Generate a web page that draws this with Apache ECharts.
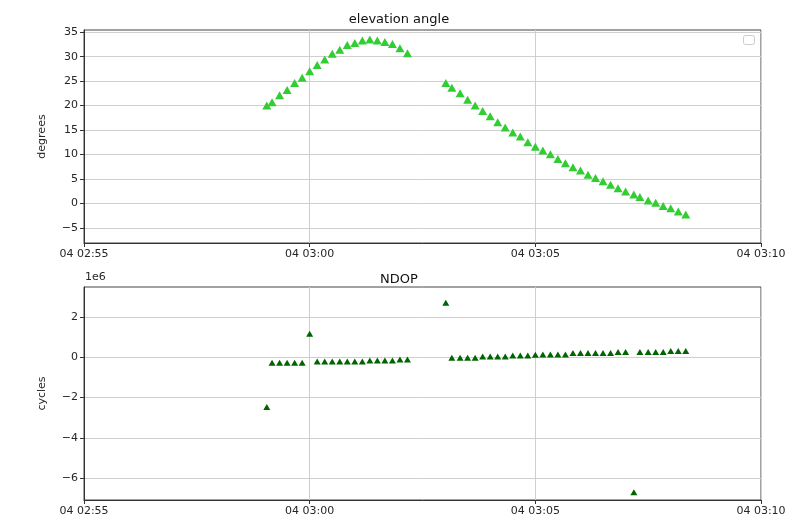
<!DOCTYPE html>
<html>
<head>
<meta charset="utf-8">
<script src="https://cdn.jsdelivr.net/npm/echarts@6/dist/echarts.min.js"></script>
<style>html,body{margin:0;padding:0;background:#fff;}#c{width:798px;height:521px;}</style>
</head>
<body>
<div id="c"></div>
<script>
// time stamps (day 04, HH:MM:SS)
const times = [
 '02:59:03','02:59:10','02:59:20','02:59:30','02:59:40','02:59:50','03:00:00','03:00:10','03:00:20','03:00:30',
 '03:00:40','03:00:50','03:01:00','03:01:10','03:01:20','03:01:30','03:01:40','03:01:50','03:02:00','03:02:10',
 '03:03:01','03:03:09','03:03:20','03:03:30','03:03:40','03:03:50','03:04:00','03:04:10','03:04:20','03:04:30',
 '03:04:40','03:04:50','03:05:00','03:05:10','03:05:20','03:05:30','03:05:40','03:05:50','03:06:00','03:06:10',
 '03:06:20','03:06:30','03:06:40','03:06:50','03:07:00','03:07:11','03:07:19','03:07:30','03:07:40','03:07:50',
 '03:08:00','03:08:10','03:08:20'
];
// elevation angle, degrees
const elevation = [
 20.0,20.7,22.1,23.2,24.6,25.7,27.0,28.3,29.4,30.6,
 31.4,32.4,32.8,33.3,33.5,33.3,33.0,32.6,31.7,30.7,
 24.6,23.65,22.5,21.2,20.0,18.9,17.8,16.6,15.5,14.5,
 13.7,12.5,11.6,10.8,10.05,9.1,8.2,7.4,6.7,5.85,
 5.2,4.5,3.8,3.1,2.45,1.8,1.3,0.6,0.15,-0.55,
 -1.0,-1.65,-2.25
];
// NDOP, units of 1e6 cycles
const ndop = [
 -2.47,-0.26,-0.26,-0.26,-0.26,-0.26,1.17,-0.2,-0.2,-0.2,
 -0.2,-0.2,-0.2,-0.2,-0.15,-0.15,-0.15,-0.15,-0.1,-0.1,
 2.72,-0.02,-0.02,-0.02,-0.02,0.05,0.05,0.05,0.05,0.1,
 0.1,0.1,0.13,0.15,0.15,0.15,0.15,0.22,0.22,0.22,
 0.22,0.22,0.22,0.27,0.27,-6.7,0.27,0.27,0.27,0.27,
 0.32,0.32,0.32
];
const xTickLabels = ['04 02:55','04 03:00','04 03:05','04 03:10'];
const elevTicks = [-5,0,5,10,15,20,25,30,35];
const ndopTicks = [-6,-4,-2,0,2];

function toSec(s){const p=s.split(':').map(Number);return p[0]*3600+p[1]*60+p[2];}
const xMin = toSec('02:55:00'), xMax = toSec('03:10:00');
const xTickVals = xTickLabels.map(l=>toSec(l.split(' ')[1]+':00'));
function fmtX(v){const i=xTickVals.indexOf(v);return i>=0?xTickLabels[i]:'';}

const FONT = 'DejaVu Sans';
const txt = '#262626';
const gridCol = '#cfcfcf';

function xAxis(gi){
  return {
    type:'value', gridIndex:gi, min:xMin, max:xMax, interval:300,
    axisLine:{show:true,onZero:false,lineStyle:{color:'#333',width:1}},
    axisTick:{show:true,length:4,lineStyle:{color:'#333'}},
    axisLabel:{formatter:fmtX,fontFamily:FONT,fontSize:11,color:txt,margin:6,showMinLabel:true,showMaxLabel:true},
    splitLine:{show:true,lineStyle:{color:gridCol,width:1}}
  };
}
function yAxis(gi,min,max,ticks,name,fmt){
  return {
    type:'value', gridIndex:gi, min:min, max:max,
    name:name, nameLocation:'middle', nameGap:36, nameRotate:90,
    nameTextStyle:{fontFamily:FONT,fontSize:11,color:txt},
    axisLine:{show:true,lineStyle:{color:'#333',width:1}},
    axisTick:{show:true,length:4,customValues:ticks,lineStyle:{color:'#333'}},
    axisLabel:{customValues:ticks,formatter:fmt,fontFamily:FONT,fontSize:11,color:txt,margin:6},
    splitLine:{show:true,lineStyle:{color:gridCol,width:1}}
  };
}

const chart = echarts.init(document.getElementById('c'),null,{renderer:'canvas'});
chart.setOption({
  animation:false,
  backgroundColor:'#fff',
  title:[
    {text:'elevation angle',left:'center',top:8,textStyle:{fontFamily:FONT,fontSize:13,fontWeight:'normal',color:'#111'}},
    {text:'NDOP',left:'center',top:268,textStyle:{fontFamily:FONT,fontSize:13,fontWeight:'normal',color:'#111'}}
  ],
  grid:[
    {left:84,top:30,width:677,height:213,show:true,borderColor:'#444',borderWidth:1,backgroundColor:'transparent'},
    {left:84,top:287,width:677,height:213,show:true,borderColor:'#444',borderWidth:1,backgroundColor:'transparent'}
  ],
  xAxis:[xAxis(0),xAxis(1)],
  yAxis:[
    yAxis(0,-8.1,35.45,elevTicks,'degrees',v=>v<0?'\u2212'+Math.abs(v):String(v)),
    yAxis(1,-7.09,3.5,ndopTicks,'cycles',v=>v<0?'\u2212'+Math.abs(v):String(v))
  ],
  graphic:[
    {type:'text',left:85,top:272,style:{text:'1e6',fontFamily:FONT,fontSize:11,fill:txt}},
    {type:'rect',shape:{x:743.5,y:35.5,width:11,height:9,r:2},style:{fill:'#fff',stroke:'#cccccc',lineWidth:1}}
  ],
  series:[
    {type:'scatter',xAxisIndex:0,yAxisIndex:0,symbol:'triangle',symbolSize:[9,8],
     itemStyle:{color:'#32cd32',opacity:1},data:times.map((t,i)=>[toSec(t),elevation[i]])},
    {type:'scatter',xAxisIndex:1,yAxisIndex:1,symbol:'triangle',symbolSize:[7,6],
     itemStyle:{color:'#006400',opacity:1},data:times.map((t,i)=>[toSec(t),ndop[i]])}
  ]
});
</script>
</body>
</html>
